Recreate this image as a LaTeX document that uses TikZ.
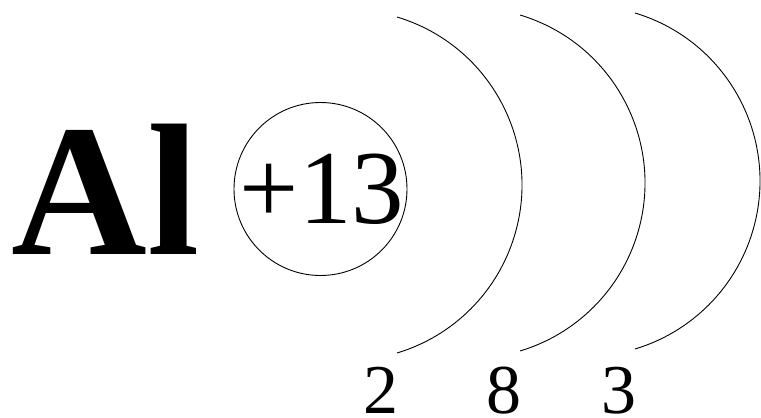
\documentclass[tikz,border=0pt]{standalone}
\usepackage{fontspec}
\setmainfont{Liberation Serif}
\begin{document}
\begin{tikzpicture}[x=1pt, y=-1pt,
    shell/.style={line width=0.9pt},
    shellnum/.style={anchor=base, inner sep=0, font=\fontsize{70}{70}\selectfont}
]
\useasboundingbox (0,0) rectangle (761,418);
\node[anchor=base west, inner sep=0, font=\fontsize{188}{188}\selectfont\bfseries] (symbol) at (11.5,254) {Al};
\node[draw, circle, line width=0.9pt, minimum size=173, inner sep=0] (nucleus) at (320.5,189) {};
\node[anchor=base, inner sep=0, font=\fontsize{105}{105}\selectfont] (charge) at (322,223) {+13};
% electron shells
\foreach \cx/\cy/\e [count=\i] in {346.6/185/2, 469.6/183/8, 584.6/181/3} {
  \draw[shell] ([shift={(-73.3:175.4)}]\cx,\cy) arc[start angle=-73.3, end angle=73.3, radius=175.4];
  \node[shellnum] (shell\i) at (\cx+34.4,413) {\e};
}
\end{tikzpicture}
\end{document}
